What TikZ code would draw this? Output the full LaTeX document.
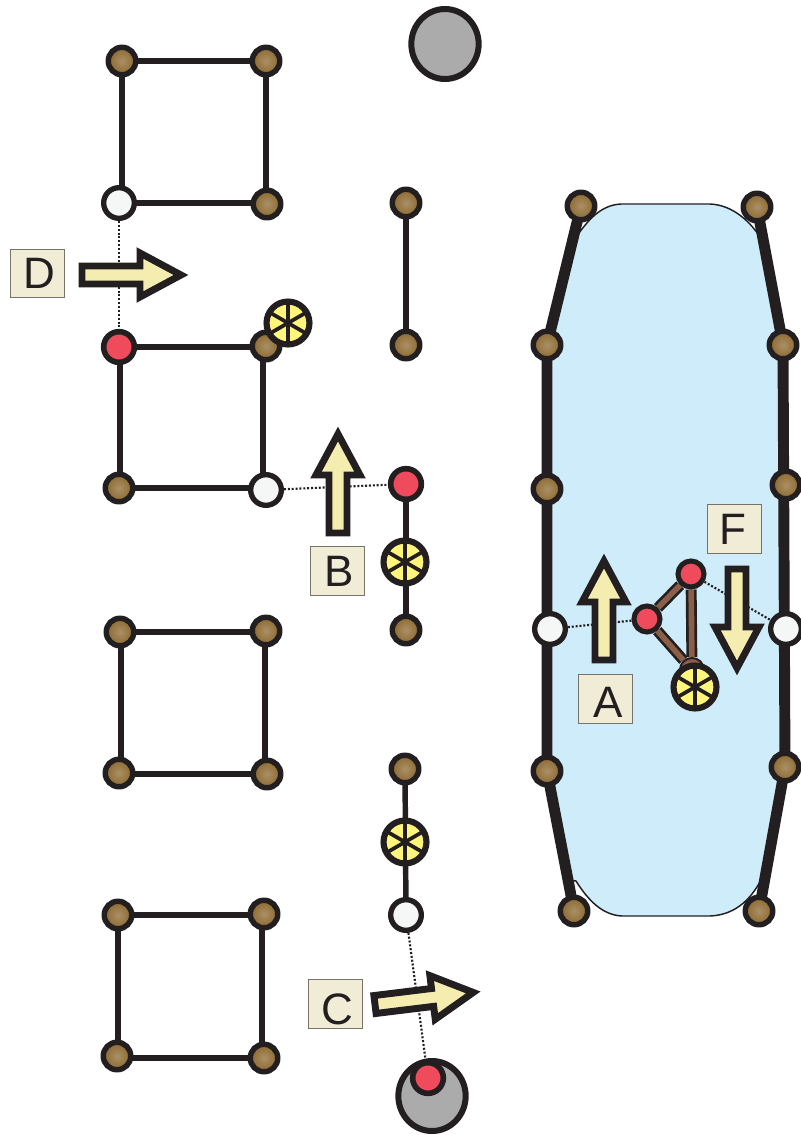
\documentclass[tikz,border=0pt]{standalone}
\usepackage{fontspec}
\setmainfont{Liberation Sans}
\usetikzlibrary{backgrounds,shapes.geometric}
\definecolor{ink}{HTML}{231F20}
\definecolor{ballin}{HTML}{AA9068}
\definecolor{ballout}{HTML}{8C682C}
\definecolor{wheelfill}{HTML}{FFF57A}
\definecolor{arrowfill}{HTML}{F5EDB0}
\definecolor{redball}{HTML}{EF4B5C}
\definecolor{whiteball}{HTML}{F4F7F6}
\definecolor{greyball}{HTML}{ABABAB}
\definecolor{blobblue}{HTML}{CFECFB}
\definecolor{linkbrown}{HTML}{8B5E48}
\definecolor{labelfill}{HTML}{F1ECD5}
\definecolor{labelline}{HTML}{77736A}
\tikzset{
  brownball/.style={circle,draw=ink,line width=4.1pt,inner sep=0pt,minimum size=20.6pt,shading=radial,inner color=ballin,outer color=ballout},
  browncap/.style={circle,draw=ink,line width=1.5pt,inner sep=0pt,minimum size=18pt,fill=linkbrown},
  redb/.style={circle,draw=ink,line width=4.2pt,inner sep=0pt,minimum size=23pt,fill=redball},
  redsmall/.style={circle,draw=ink,line width=3.8pt,inner sep=0pt,minimum size=19.5pt,fill=redball},
  whiteb/.style={circle,draw=ink,line width=4pt,inner sep=0pt,minimum size=23pt,fill=whiteball},
  wheelb/.style={circle,draw=ink,line width=4.6pt,inner sep=0pt,minimum size=32.2pt,fill=wheelfill,
    path picture={
      \draw[ink,line width=2.8pt]
        (path picture bounding box.center)+(90:30pt) -- +(270:30pt)
        (path picture bounding box.center)+(30:30pt) -- +(210:30pt)
        (path picture bounding box.center)+(150:30pt) -- +(330:30pt);}},
  greyb/.style={ellipse,draw=ink,line width=4.5pt,inner sep=0pt,minimum width=50.5pt,minimum height=52.5pt,fill=greyball},
  tag/.style={rectangle,draw=labelline,line width=0.7pt,fill=labelfill,inner sep=0pt,minimum width=41pt,minimum height=36.5pt,text=ink,font=\fontsize{33}{33}\selectfont},
  bar/.style={ink,line width=4.1pt},
  thickbar/.style={ink,line width=8.2pt,line join=round},
  dots/.style={ink,line width=1.6pt,dash pattern=on 1.5pt off 1.4pt},
  link/.style={ink,line width=2pt,double=linkbrown,double distance=4.2pt},
  blob/.style={draw=ink,line width=1.1pt,fill=blobblue},
  fat/.style={draw=ink,fill=arrowfill,line width=5.2pt,miter limit=10,line join=miter}
}
\newcommand{\fatarrow}[3]{%
  \draw[fat,shift={(#1,#2)},rotate=#3] (0,-9) -- (58,-9) -- (58,-22) -- (99,0) -- (58,22) -- (58,9) -- (0,9) -- cycle;}
\begin{document}
\begin{tikzpicture}[x=0.75pt,y=-0.75pt]
\useasboundingbox (0,0) rectangle (800,1135);
% squares
\node[brownball] (a1) at (122,61) {};
\node[brownball] (a2) at (266,61) {};
\node[whiteb] (a3) at (119,203) {};
\node[brownball] (a4) at (267,204) {};
\node[redb] (b1) at (119,347) {};
\node[brownball] (b2) at (266,346) {};
\node[brownball] (b3) at (119,488) {};
\node[whiteb] (b4) at (266,490) {};
\node[wheelb] (bw) at (288,323) {};
\node[brownball] (c1) at (120,632) {};
\node[brownball] (c2) at (266,631) {};
\node[brownball] (c3) at (119,773) {};
\node[brownball] (c4) at (267,774) {};
\node[brownball] (d1) at (118,915) {};
\node[brownball] (d2) at (264,914) {};
\node[brownball] (d3) at (117,1056) {};
\node[brownball] (d4) at (264,1058) {};
% middle column
\node[greyb] (g1) at (445,44) {};
\node[brownball] (m1) at (406,203) {};
\node[brownball] (m2) at (406,345) {};
\node[redb] (m3) at (406,484) {};
\node[wheelb] (m4) at (405,562) {};
\node[brownball] (m5) at (406,630) {};
\node[brownball] (m6) at (405,769) {};
\node[wheelb] (m7) at (405,842) {};
\node[whiteb] (m8) at (406,915) {};
\node[greyb] (g2) at (432,1096) {};
\node[redb] (m9) at (428,1078) {};
% outer right frame
\node[brownball] (r1) at (581,206) {};
\node[brownball] (r2) at (757,207) {};
\node[brownball] (r3) at (547,345) {};
\node[brownball] (r4) at (783,345) {};
\node[brownball] (r5) at (547,489) {};
\node[brownball] (r6) at (786,485) {};
\node[whiteb] (r7) at (550,629) {};
\node[whiteb] (r8) at (786,629) {};
\node[brownball] (r9) at (547,771) {};
\node[brownball] (r10) at (785,767) {};
\node[brownball] (r11) at (574,911) {};
\node[brownball] (r12) at (759,911) {};
% inner triangle
\node[redsmall] (t1) at (647,619) {};
\node[redsmall] (t2) at (691,574) {};
\node[browncap] (t3) at (692,670) {};
\node[wheelb] (t4) at (695,687) {};
\begin{scope}[on background layer]
  \fill[white] (0,0) rectangle (800,1135);
  \path[blob] (621,204) -- (710,204) .. controls (733,205) and (751,222) .. (762,240)
    -- (783,345) -- (785,767) -- (762,878) .. controls (750,902) and (733,915) .. (710,916)
    -- (622,916) .. controls (602,915) and (588,900) .. (576,881) -- (568,880)
    -- (547,771) -- (547,345) -- (574,233) -- (579,233) .. controls (590,218) and (602,205) .. (621,204) -- cycle;
  \draw[bar] (a1.center) -- (a1.center -| a2.center) -- (a2.center |- a4.center) -- (a4.center);
  \draw[bar] (a1.center) -- (a1.center |- a3.center);
  \draw[bar] (a3.center) -- (a3.center -| a4.center);
  \draw[bar] (b1.center) -- (b1.center -| b2.center);
  \draw[bar] ([xshift=-2.25pt]b2.center) -- ([xshift=-2.25pt]b2.center |- b4.center);
  \draw[bar] (b3.center) -- (b3.center -| b4.center);
  \draw[bar] ([xshift=0.75pt]b1.center) -- ([xshift=0.75pt]b1.center |- b3.center);
  \draw[bar] (c1.center) -- (c1.center -| c2.center);
  \draw[bar] ([xshift=-0.75pt]c2.center) -- ([xshift=-0.75pt]c2.center |- c4.center);
  \draw[bar] ([xshift=0.75pt]c1.center) -- ([xshift=0.75pt]c1.center |- c3.center);
  \draw[bar] (c4.center -| c3.center) -- (c4.center);
  \draw[bar] (d1.center) -- (d1.center -| d2.center);
  \draw[bar] ([xshift=-1.5pt]d2.center) -- ([xshift=-1.5pt]d2.center |- d4.center);
  \draw[bar] (d1.center) -- (d1.center |- d3.center);
  \draw[bar] (d4.center -| d3.center) -- (d4.center);
  \draw[bar] (m1.center) -- (m2.center);
  \draw[bar] (m3.center) -- (m5.center);
  \draw[bar] (m6.center) -- (m8.center);
  \draw[dots] (a3) -- (b1);
  \draw[dots] (b4) -- (m3);
  \draw[dots] (m8) -- (m9);
  \draw[thickbar] (r1.center) -- (r3.center) -- (r9.center) -- (r11.center);
  \draw[thickbar] (r2.center) -- (r4.center) -- (r10.center) -- (r12.center);
  \draw[dots] (r7) -- (t1);
  \draw[dots] (t2) -- (r8);
  \draw[link] (t1) -- (t2);
  \draw[link] (t2) -- (t3);
  \draw[link] (t1) -- (t3);
\end{scope}
% arrows
\fatarrow{82}{275}{0}
\fatarrow{338}{533}{90}
\fatarrow{604}{660}{90}
\fatarrow{737}{569}{-90}
\fatarrow{375}{1004.5}{7}
% labels
\node[tag] (lD) at (37.5,273.5) {\hspace{3pt}D};
\node[tag] (lB) at (337.5,571) {\hspace{2pt}B};
\node[tag] (lF) at (734.5,529) {\hspace{-2pt}F};
\node[tag] (lA) at (605.5,699) {\hspace{4pt}\raisebox{-1.5pt}[24pt][0pt]{A}};
\node[tag] (lC) at (335.5,1004) {\hspace{3pt}\raisebox{-3pt}[24pt][0pt]{C}};
\end{tikzpicture}
\end{document}
